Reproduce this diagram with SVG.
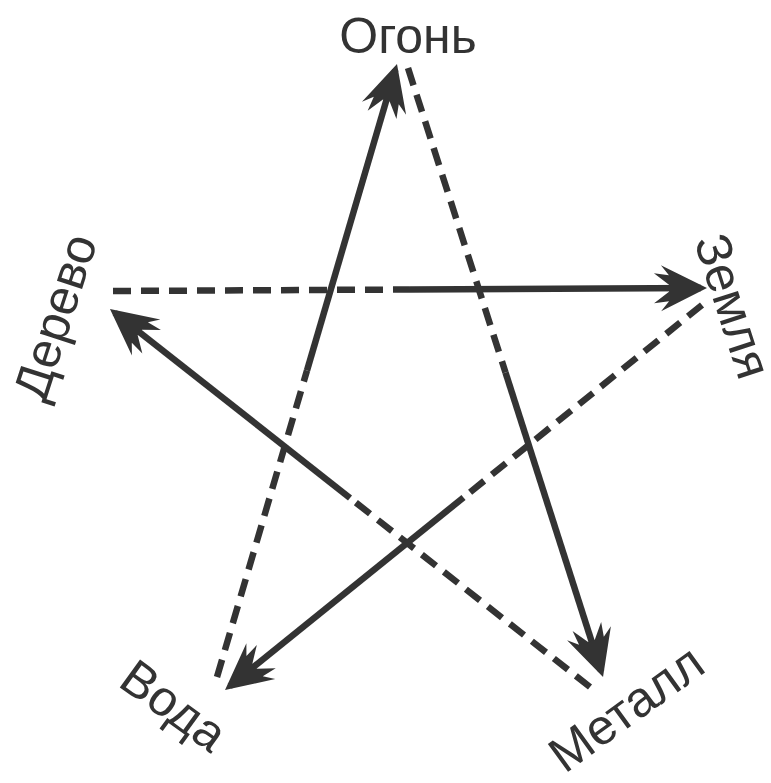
<svg xmlns="http://www.w3.org/2000/svg" width="771" height="783" viewBox="0 0 771 783">
<style>
.lbl{font-family:"Liberation Sans",Arial,sans-serif;font-size:50px;fill:#333;text-anchor:middle}
.dash{fill:none;stroke:#333;stroke-width:6.5;stroke-dasharray:18 10}
.solid{fill:none;stroke:#333;stroke-width:6.5}
</style>
<defs>
<marker id="ah" markerUnits="userSpaceOnUse" markerWidth="80" markerHeight="60" viewBox="-60 -30 80 60" refX="-6" refY="0" orient="auto" overflow="visible">
<path d="M0,0 L-46,-23 L-38,-13 L-53,-15 L-38,-3.5 L-38,3.5 L-53,15 L-38,13 L-46,23 Z" fill="#333"/>
</marker>
</defs>
<rect width="771" height="783" fill="#fff"/>
<g id="connectors">
<path class="dash" d="M217,677 L307,370.5"/>
<path class="solid" d="M307,370.5 L395.3,69.8" marker-end="url(#ah)"/>
<path class="dash" d="M408,68 L505.5,372.5"/>
<path class="solid" d="M505.5,372.5 L601.2,671.3" marker-end="url(#ah)"/>
<path class="dash" d="M590,687 L350,498"/>
<path class="solid" d="M350,498 L114.7,312.7" marker-end="url(#ah)"/>
<path class="dash" d="M113,291 L410,289.5"/>
<path class="solid" d="M410,289.5 L701,288" marker-end="url(#ah)"/>
<path class="dash" d="M702,305 L463.5,497.5"/>
<path class="solid" d="M463.5,497.5 L229.7,686.2" marker-end="url(#ah)"/>
</g>
<g id="ogon"><text class="lbl" x="408" y="53">Огонь</text></g>
<g id="zemlya"><text class="lbl" transform="translate(730,307) rotate(72)" x="0" y="14">Земля</text></g>
<g id="metall"><text class="lbl" transform="translate(628,711) rotate(-36)" x="0" y="14">Металл</text></g>
<g id="voda"><text class="lbl" transform="translate(172,708) rotate(36)" x="0" y="14">Вода</text></g>
<g id="derevo"><text class="lbl" transform="translate(58,318) rotate(-72)" x="0" y="14">Дерево</text></g>
</svg>
